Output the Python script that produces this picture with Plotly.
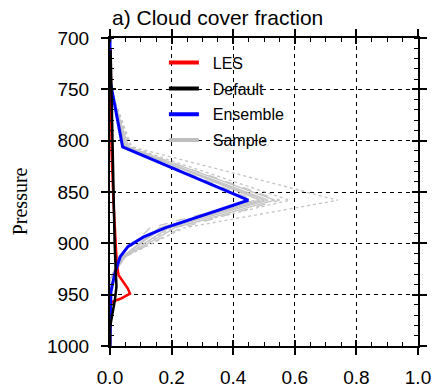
import plotly.graph_objects as go

# ---------------- data ----------------
les_p = [710, 760, 809, 858, 906, 920, 931, 944, 949, 954, 957, 965, 1000]
les_x = [0.002, 0.004, 0.005, 0.011, 0.019, 0.022, 0.028, 0.058, 0.065, 0.034, 0.006, 0.0, 0.0]

default_p = [712, 760, 810, 858, 900, 930, 942, 955, 968, 982, 1000]
default_x = [0.002, 0.005, 0.008, 0.011, 0.015, 0.019, 0.021, 0.016, 0.009, 0.0, 0.0]

ens_p = [700, 741, 806, 858, 885, 894, 903, 913, 930, 947, 1000]
ens_x = [0.0, 0.0, 0.041, 0.449, 0.179, 0.108, 0.059, 0.033, 0.015, 0.003, 0.0]

sample_p = [700, 748, 806, 858, 885, 913, 935, 1000]
sample_x = [
    [0.0, 0.0, 0.055, 0.486, 0.16, 0.040, 0.0, 0.0],
    [0.0, 0.0, 0.050, 0.513, 0.19, 0.045, 0.0, 0.0],
    [0.0, 0.0, 0.060, 0.535, 0.21, 0.050, 0.0, 0.0],
    [0.0, 0.0, 0.055, 0.551, 0.23, 0.050, 0.0, 0.0],
    [0.0, 0.0, 0.065, 0.583, 0.20, 0.040, 0.0, 0.0],
    [0.0, 0.0, 0.070, 0.740, 0.24, 0.050, 0.0, 0.0],
    [0.0, 0.0, 0.045, 0.470, 0.13, 0.035, 0.0, 0.0],
    [0.0, 0.0, 0.050, 0.500, 0.17, 0.040, 0.0, 0.0],
]
sample_dash = ["solid", "solid", "solid", "dash", "dot", "dot", "dash", "solid"]

legend_names = ["LES", "Default", "Ensemble", "Sample"]
legend_colors = ["#ff0000", "#000000", "#0000ff", "#bebebe"]

x_ticks = [0.0, 0.2, 0.4, 0.6, 0.8, 1.0]
x_ticklabels = ["0.0", "0.2", "0.4", "0.6", "0.8", "1.0"]
y_ticks = [700, 750, 800, 850, 900, 950, 1000]

title_text = "a) Cloud cover fraction"
ytitle_text = "Pressure"

# ---------------- figure ----------------
fig = go.Figure()

GRAY = "#c4c4c4"
for xs, d in zip(sample_x, sample_dash):
    fig.add_trace(go.Scatter(x=xs, y=sample_p, mode="lines",
                             line=dict(color=GRAY, width=1.3, dash=d),
                             showlegend=False, hoverinfo="skip"))

fig.add_trace(go.Scatter(x=les_x, y=les_p, mode="lines",
                         line=dict(color="#ff0000", width=2.5), showlegend=False))
fig.add_trace(go.Scatter(x=ens_x, y=ens_p, mode="lines",
                         line=dict(color="#0000ff", width=3), showlegend=False))
fig.add_trace(go.Scatter(x=default_x, y=default_p, mode="lines",
                         line=dict(color="#000000", width=2.5), showlegend=False))

# legend entries
for i, (name, col) in enumerate(zip(legend_names, legend_colors)):
    fig.add_trace(go.Scatter(x=[None], y=[None], mode="lines", name="\u00a0\u00a0" + name,
                             legendgroup="g%d" % i,
                             line=dict(color=col, width=4), showlegend=True))

# invisible trace for the overlay axes (inner half of major ticks)
fig.add_trace(go.Scatter(x=[None], y=[None], xaxis="x2", yaxis="y2",
                         mode="lines", showlegend=False))

FONT = "Liberation Sans, Arial, Helvetica, sans-serif"

fig.update_layout(
    width=433, height=391,
    margin=dict(l=110, r=15, t=38, b=45, pad=0, autoexpand=False),
    paper_bgcolor="white", plot_bgcolor="white",
    font=dict(family=FONT, color="black"),
    showlegend=True,
    legend=dict(x=0.175, y=0.975, xanchor="left", yanchor="top",
                bgcolor="rgba(0,0,0,0)", font=dict(size=16, family=FONT),
                tracegroupgap=2, traceorder="grouped", itemwidth=30),
    xaxis=dict(range=[0, 1], tickvals=x_ticks, ticktext=x_ticklabels,
               automargin=False,
               ticks="outside", ticklen=7, tickwidth=1.5, tickcolor="black",
               showline=True, linewidth=2, linecolor="black", mirror="ticks",
               showgrid=True, gridcolor="black", gridwidth=1, griddash="4px,4px",
               zeroline=False, tickfont=dict(size=19), ticklabelstandoff=6,
               minor=dict(dtick=0.05, tick0=0, ticks="inside", ticklen=4,
                          tickwidth=1, tickcolor="black", showgrid=False)),
    yaxis=dict(range=[1000, 700], tickvals=y_ticks, automargin=False,
               ticks="outside", ticklen=7, tickwidth=1.5, tickcolor="black",
               showline=True, linewidth=2, linecolor="black", mirror="ticks",
               showgrid=True, gridcolor="black", gridwidth=1, griddash="4px,4px",
               zeroline=False, tickfont=dict(size=19), ticklabelstandoff=8,
               minor=dict(dtick=10, tick0=700, ticks="inside", ticklen=4,
                          tickwidth=1, tickcolor="black", showgrid=False)),
    xaxis2=dict(overlaying="x", matches="x", range=[0, 1], side="bottom",
                tickvals=x_ticks, ticks="inside", ticklen=6, tickwidth=1.5,
                automargin=False,
                tickcolor="black", showticklabels=False, showgrid=False,
                showline=False, zeroline=False, mirror="ticks"),
    yaxis2=dict(overlaying="y", matches="y", range=[1000, 700], side="left",
                tickvals=y_ticks, ticks="inside", ticklen=6, tickwidth=1.5,
                automargin=False,
                tickcolor="black", showticklabels=False, showgrid=False,
                showline=False, zeroline=False, mirror="ticks"),
)

fig.add_annotation(text=title_text, xref="paper", yref="paper", x=0, y=1,
                   xanchor="left", yanchor="bottom", yshift=7, showarrow=False,
                   font=dict(size=21, family=FONT, color="black"))
fig.add_annotation(text=ytitle_text, xref="paper", yref="paper", x=-0.292, y=0.47,
                   xanchor="center", yanchor="middle", textangle=-90, showarrow=False,
                   font=dict(size=20, family="Liberation Serif, Times New Roman, serif",
                             color="black"))

fig.write_html("out.html")
